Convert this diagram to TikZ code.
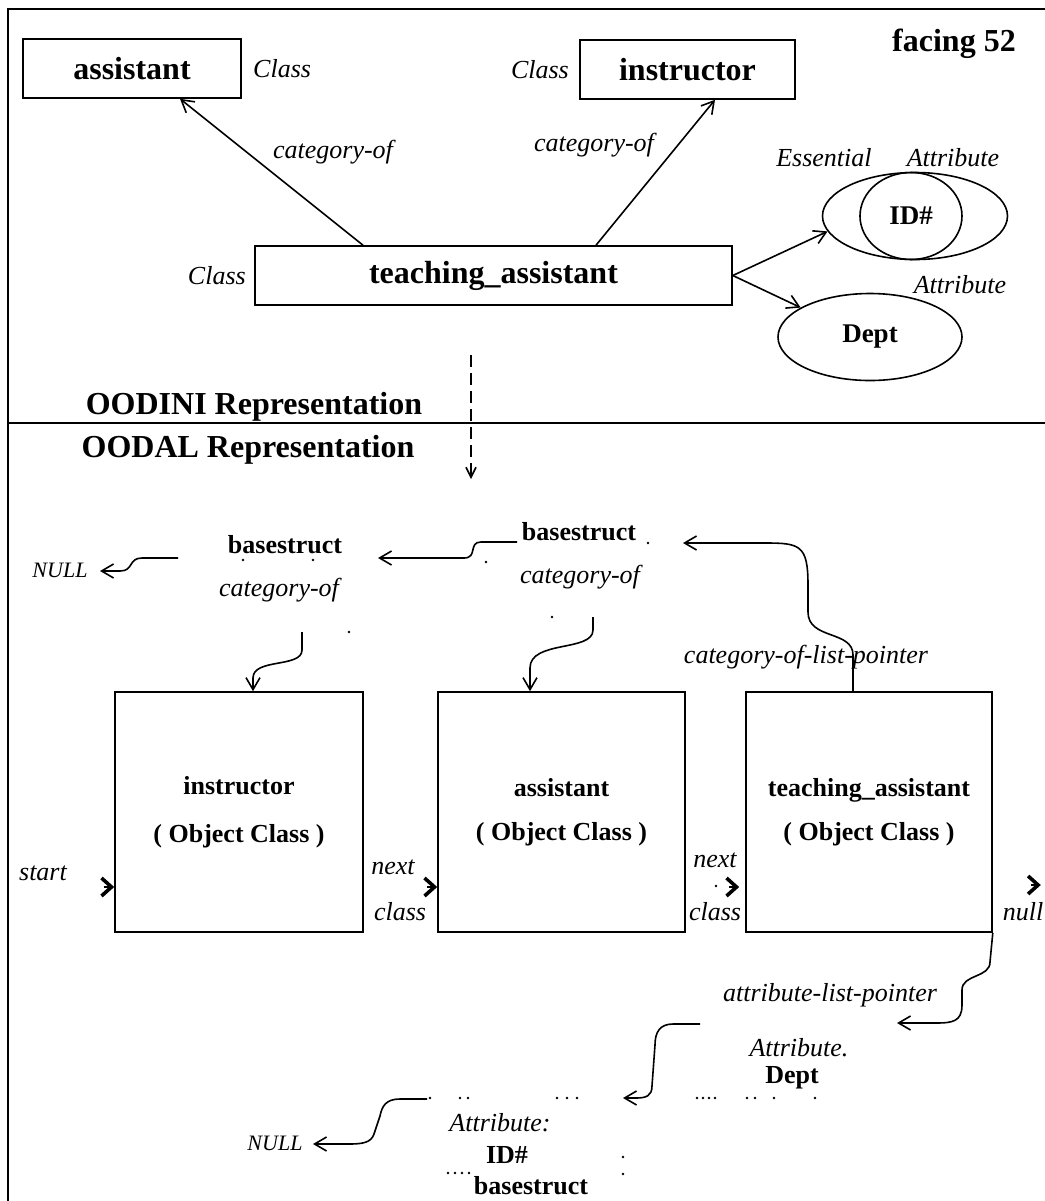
\documentclass[tikz,border=0pt]{standalone}
\usepackage{fontspec}
\setmainfont{Liberation Serif}
\usepackage{tikz}
\usetikzlibrary{arrows.meta}
\usetikzlibrary{shapes.geometric}
\usetikzlibrary{positioning}

\tikzset{
    frameline/.style={line width=1pt},
    clsbox/.style={draw, line width=0.8pt, inner sep=0pt, font=\bfseries\fontsize{16}{19}\selectfont},
    objbox/.style={draw, line width=0.8pt, inner sep=0pt, minimum height=120pt, align=center, font=\bfseries\fontsize{13}{15}\selectfont},
    attrell/.style={draw, ellipse, line width=0.8pt, inner sep=0pt, font=\bfseries\fontsize{13.5}{16}\selectfont},
    lbl/.style={inner sep=0pt, font=\itshape\fontsize{13}{15}\selectfont},
    blbl/.style={inner sep=0pt, font=\bfseries\fontsize{13}{15}\selectfont},
    title/.style={inner sep=0pt, font=\bfseries\fontsize{16}{19}\selectfont},
    nulllbl/.style={inner sep=0pt, font=\itshape\fontsize{11}{13}\selectfont},
    ptr/.style={line width=0.8pt, -{Straight Barb[length=6pt,width=7pt]}},
    headonly/.style={line width=0.8pt, -{Straight Barb[length=5pt,width=9pt,line width=1.8pt]}},
    dashptr/.style={line width=0.8pt, dash pattern=on 6pt off 3pt, -{Straight Barb[length=5pt,width=5pt]}},
}

\begin{document}
\begin{tikzpicture}[x=0.5pt,y=-0.5pt]
    \useasboundingbox (0,0) rectangle (1045,1201);
    \draw[frameline] (8,1201) -- (8,9) -- (1045,9);
    \draw[frameline] (8,423) -- (1045,423);

    % OODINI part
    \node[clsbox, minimum width=109pt, minimum height=29.5pt] (asst) at (132,68.5) {assistant};
    \node[clsbox, minimum width=107.5pt, minimum height=29.5pt] (instr) at (687.5,69.5) {instructor};
    \node[clsbox, minimum width=238.5pt, minimum height=29.5pt] (ta) at (493.5,275.5) {teaching\_assistant};
    \node[lbl, right=5.5pt of asst] (asstcls) {Class};
    \node[lbl, left=5pt of instr] (instrcls) {Class};
    \node[lbl, left=4pt of ta] (tacls) {Class};
    \node[title] (facing) at (954,44) {facing 52};

    \node[attrell, minimum width=92.5pt, minimum height=43.5pt] (essout) at (915,216) {};
    \node[attrell, minimum width=51pt, minimum height=43.5pt] (essin) at (911,216) {ID\#};
    \node[attrell, minimum width=92pt, minimum height=43.5pt] (dept) at (870,337) {Dept};
    \node[lbl] (esslbl) at (824,158) {Essential};
    \node[lbl] (attlblA) at (953,158) {Attribute};
    \node[lbl] (attlblB) at (960,285) {Attribute};
    \node[lbl] (catlblA) at (333,152) {category-of};
    \node[lbl] (catlblB) at (594,145) {category-of};

    \draw[ptr] ([xshift=-65.25pt]ta.north) -- ([xshift=24pt]asst.south);
    \draw[ptr] ([xshift=51.25pt]ta.north) -- ([xshift=13.75pt]instr.south);
    \draw[ptr] (ta.east) -- (essout.190);
    \draw[ptr] (ta.east) -- (dept.157);

    \coordinate (dtop) at (471,355);
    \coordinate (dbot) at (471,479);
    \draw[dashptr] (dtop) -- (dbot);

    \node[title] (oodini) at (254,407) {OODINI Representation};
    \node[title] (oodal) at (248,450) {OODAL Representation};

    % OODAL part
    \node[objbox, minimum width=124pt] (binstr) at (239,812) {instructor\\[9pt]( Object Class )};
    \node[objbox, minimum width=123.5pt] (basst) at (561.5,812) {assistant\\[7pt]( Object Class )};
    \node[objbox, minimum width=123pt] (bta) at (869,812) {teaching\_assistant\\[7pt]( Object Class )};

    \node[blbl] (bsA) at (285,545) {basestruct};
    \node[lbl] (catA) at (279,590) {category-of};
    \node[blbl] (bsB) at (579,532) {basestruct};
    \node[lbl] (catB) at (580,577) {category-of};
    \node[nulllbl] (nullA) at (60,570) {NULL};
    \node[lbl] (clp) at (806,657) {category-of-list-pointer};

    \node[lbl] (start) at (43,873) {start};
    \node[lbl] (nextA) at (393,867) {next};
    \node[lbl] (classA) at (400,912) {class};
    \node[lbl] (nextB) at (715,860) {next};
    \node[lbl] (classB) at (715,912) {class};
    \node[lbl] (nullB) at (1023,912) {null};

    \node[lbl] (alp) at (830,995) {attribute-list-pointer};
    \node[lbl] (attD) at (799,1048) {Attribute.};
    \node[blbl] (deptB) at (792,1078) {Dept};
    \node[lbl] (attI) at (500,1123) {Attribute:};
    \node[blbl] (idB) at (507,1155) {ID\#};
    \node[blbl] (bsC) at (531,1186) {basestruct};
    \node[nulllbl] (nullC) at (275,1143) {NULL};

    \coordinate (pA) at (178,558);
    \coordinate (pB) at (517,542);
    \coordinate (pC) at (302,632);
    \coordinate (pD) at (593,617);
    \coordinate (pG) at (700,1024);
    \coordinate (pH) at (427,1099);
    \coordinate (tipA) at (100,571);
    \coordinate (tipB) at (378,558);
    \coordinate (tipE) at (683,543);
    \coordinate (tipF) at (897,1023);
    \coordinate (tipG) at (623,1098);
    \coordinate (tipH) at (313,1144);

    \draw[ptr] (pA) -- (142,558) .. controls (128,558) and (134,571) .. (120,571) -- (tipA);
    \draw[ptr] (pB) -- (481,542) .. controls (468,542) and (478,558) .. (464,558) -- (tipB);
    \draw[ptr] (pC) -- (302,650) .. controls (302,668) and (253,658) .. (253,678) -- ([xshift=7pt]binstr.north);
    \draw[ptr] (pD) -- (593,630) .. controls (593,652) and (530,640) .. (530,668) -- ([xshift=-15.75pt]basst.north);
    \draw[ptr] ([xshift=-8pt]bta.north) -- (853,655) .. controls (853,630) and (808,640) .. (808,612)
        -- (808,585) .. controls (808,545) and (800,543) .. (765,543) -- (tipE);
    \draw[ptr] (bta.south east) -- (990,962) .. controls (990,978) and (962,974) .. (962,990)
        -- (962,1005) .. controls (962,1022) and (952,1023) .. (935,1023) -- (tipF);
    \draw[ptr] (pG) -- (673,1024) .. controls (660,1024) and (655,1032) .. (655,1045)
        -- (652,1086) .. controls (652,1096) and (646,1098) .. (636,1098) -- (tipG);
    \draw[ptr] (pH) -- (400,1099) .. controls (386,1099) and (382,1106) .. (380,1116)
        -- (374,1134) .. controls (371,1143) and (362,1144) .. (348,1144) -- (tipH);

    \draw[headonly] ([xshift=-5pt,yshift=-37.5pt]binstr.west) -- ([yshift=-37.5pt]binstr.west);
    \draw[headonly] ([xshift=-5pt,yshift=-37.5pt]basst.west) -- ([yshift=-37.5pt]basst.west);
    \draw[headonly] ([xshift=-8pt,yshift=-37.5pt]bta.west) -- ([xshift=-3pt,yshift=-37.5pt]bta.west);
    \draw[headonly] ([xshift=19pt,yshift=-36.5pt]bta.east) -- ([xshift=24pt,yshift=-36.5pt]bta.east);

    \foreach \p in {(243,560),(313,560),(349,632),(486,562),(648,543),(552,617),(716,886),
        (697,1098),(703,1098),(709,1098),(715,1098),(747,1098),(755,1098),(774,1098),(815,1098),
        (430,1098),(460,1098),(468,1098),(557,1098),(567,1098),(577,1098),
        (448,1173),(455,1173),(462,1173),(469,1173),(623,1157),(623,1174)} {
        \fill \p circle (0.7pt);
    }
\end{tikzpicture}
\end{document}
